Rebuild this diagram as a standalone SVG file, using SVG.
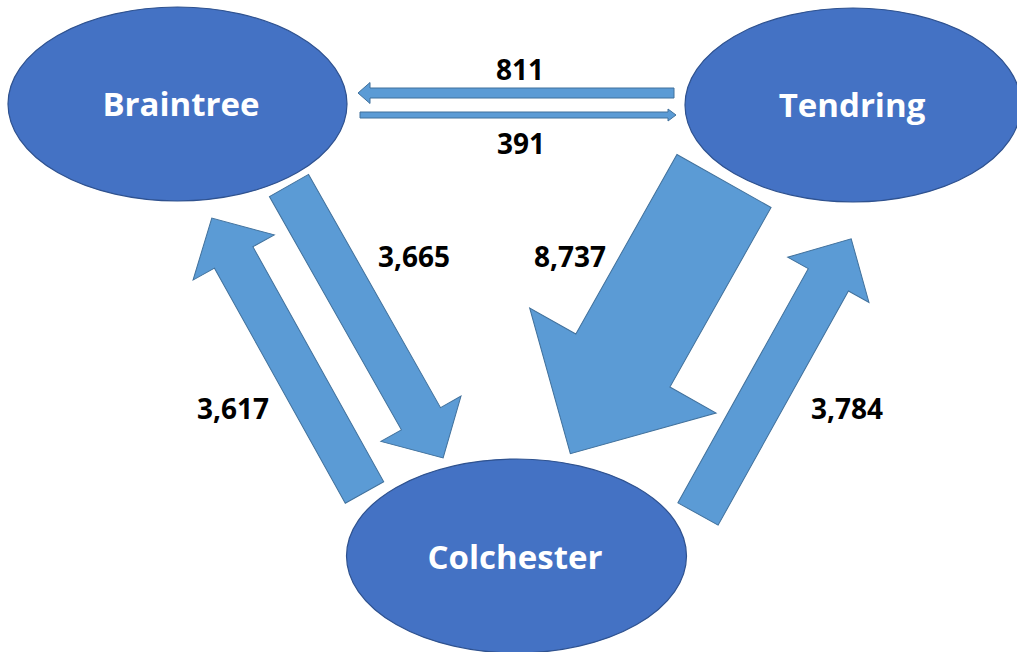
<svg xmlns="http://www.w3.org/2000/svg" width="1017" height="652" viewBox="0 0 1017 652">
<style>
.node{fill:#4472C4;stroke:#2F528F;stroke-width:1.2}
.arr{fill:#5B9BD5;stroke:#41719C;stroke-width:1}
.nl{font-family:"Open Sans","Liberation Sans",sans-serif;font-weight:bold;font-size:33px;fill:#FFFFFF;text-anchor:middle}
.num{font-family:"Open Sans","Liberation Sans",sans-serif;font-weight:bold;font-size:28px;fill:#000000;text-anchor:middle}
</style>
<rect width="1017" height="652" fill="#FFFFFF"/>
<g id="connectors">
  <g id="e-tendring-braintree">
    <polygon class="arr" transform="translate(674,93) rotate(180)" points="0,-5 304,-5 304,-10.5 316,0 304,10.5 304,5 0,5"/>
    <text class="num" x="520" y="80">811</text>
  </g>
  <g id="e-braintree-tendring">
    <polygon class="arr" transform="translate(360,115)" points="0,-3 308,-3 308,-6 316,0 308,6 308,3 0,3"/>
    <text class="num" x="521" y="154">391</text>
  </g>
  <g id="e-braintree-colchester">
    <polygon class="arr" transform="translate(289,185.5) rotate(60.5)" points="0,-22.5 268,-22.5 268,-46 313,0 268,46 268,22.5 0,22.5"/>
    <text class="num" x="414" y="267">3,665</text>
  </g>
  <g id="e-colchester-braintree">
    <polygon class="arr" transform="translate(364.5,492.5) rotate(240.9)" points="0,-22 269,-22 269,-46.5 314,0 269,46.5 269,22 0,22"/>
    <text class="num" x="233" y="419">3,617</text>
  </g>
  <g id="e-tendring-colchester">
    <polygon class="arr" transform="translate(724,181) rotate(119.4)" points="0,-54 206,-54 206,-107 313,0 206,107 206,54 0,54"/>
    <text class="num" x="570" y="267">8,737</text>
  </g>
  <g id="e-colchester-tendring">
    <polygon class="arr" transform="translate(698,514) rotate(-60.9)" points="0,-23 268,-23 268,-46.5 315,0 268,46.5 268,23 0,23"/>
    <text class="num" x="847" y="419">3,784</text>
  </g>
</g>
<g id="braintree">
  <ellipse class="node" cx="177.5" cy="104" rx="169.5" ry="97"/>
  <text class="nl" x="181" y="116">Braintree</text>
</g>
<g id="tendring">
  <ellipse class="node" cx="853" cy="105" rx="168" ry="97"/>
  <text class="nl" x="852" y="117">Tendring</text>
</g>
<g id="colchester">
  <ellipse class="node" cx="516.5" cy="556" rx="170" ry="97"/>
  <text class="nl" x="515" y="569">Colchester</text>
</g>
</svg>
